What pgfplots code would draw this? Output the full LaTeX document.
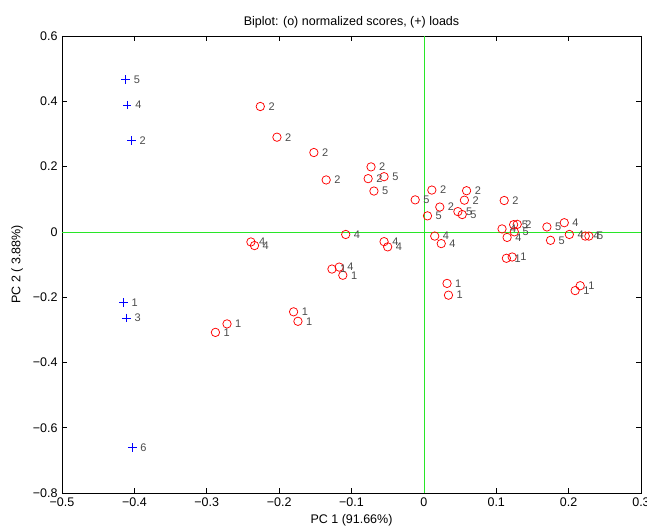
\documentclass[border=0pt]{standalone}
\usepackage{fontspec}
\setmainfont{Liberation Sans}
\usepackage{pgfplots}
\usepackage{pgfplotstable}
\pgfplotsset{compat=1.18}

\pgfplotstableread{
x y lab
-0.226 0.384 2
-0.203 0.290 2
-0.152 0.243 2
-0.135 0.159 2
-0.073 0.199 2
-0.077 0.163 2
0.011 0.128 2
0.059 0.126 2
0.056 0.097 2
0.022 0.076 2
0.111 0.096 2
0.129 0.023 2
-0.055 0.169 5
-0.069 0.125 5
-0.012 0.098 5
0.047 0.062 5
0.053 0.053 5
0.005 0.049 5
0.124 0.022 5
0.125 0.000 5
0.170 0.015 5
0.175 -0.026 5
0.228 -0.013 5
-0.239 -0.031 4
-0.234 -0.042 4
-0.108 -0.008 4
-0.055 -0.030 4
-0.050 -0.046 4
0.015 -0.013 4
0.024 -0.036 4
-0.117 -0.108 4
0.108 0.009 4
0.115 -0.017 4
0.194 0.028 4
0.201 -0.008 4
0.223 -0.013 4
-0.127 -0.114 1
-0.112 -0.133 1
0.032 -0.158 1
0.034 -0.194 1
-0.180 -0.245 1
-0.174 -0.274 1
-0.272 -0.282 1
-0.288 -0.308 1
0.114 -0.081 1
0.122 -0.077 1
0.216 -0.165 1
0.209 -0.180 1
}\scores

\pgfplotstableread{
x y lab
-0.404 0.280 2
-0.415 -0.217 1
-0.411 -0.264 3
-0.403 -0.661 6
}\loadsA

\pgfplotstableread{
x y lab
-0.412 0.467 5
-0.410 0.388 4
}\loadsB

\definecolor{lblgray}{RGB}{75,75,75}
\definecolor{mgreen}{RGB}{40,230,40}
\definecolor{mblue}{rgb}{0,0,1}

\begin{document}
\begin{tikzpicture}
\useasboundingbox (-62pt,-33pt) rectangle (585pt,493pt);
\begin{axis}[
  scale only axis, width=579pt, height=457pt,
  xmin=-0.5, xmax=0.3, ymin=-0.8, ymax=0.6,
  xtick={-0.5,-0.4,-0.3,-0.2,-0.1,0,0.1,0.2,0.3},
  xticklabels={−0.5,−0.4,−0.3,−0.2,−0.1,0,0.1,0.2,0.3},
  ytick={-0.8,-0.6,-0.4,-0.2,0,0.2,0.4,0.6},
  yticklabels={−0.8,−0.6,−0.4,−0.2,0,0.2,0.4,0.6},
  tick align=inside, major tick length=5pt,
  tick style={black, line width=0.6pt},
  axis line style={black, line width=0.8pt},
  tick label style={font=\fontsize{12.5}{14}\selectfont},
  xticklabel style={yshift=-1pt},
  yticklabel style={xshift=-1pt},
  label style={font=\fontsize{12.5}{14}\selectfont},
  title style={font=\fontsize{12.5}{14}\selectfont, yshift=-2pt},
  title={Biplot: (o) normalized scores, (+) loads},
  xlabel={PC 1 (91.66\%)},
  xlabel style={yshift=-1pt},
  ylabel={PC 2 ( 3.88\%)},
  ylabel style={yshift=3pt},
  clip=false,
  loadmark/.style={only marks, mark=+, draw=mblue, color=mblue, mark size=4.3pt,
    mark options={solid, draw=mblue, line width=1pt}},
  labelplot/.style={only marks, mark=none, draw=none,
    nodes near coords, point meta=explicit symbolic,
    nodes near coords style={anchor=west, inner sep=0pt, xshift=8pt,
      text=lblgray, font=\fontsize{11}{12}\selectfont}},
]
\addplot[mgreen, line width=0.6pt, forget plot] coordinates {(-0.5,0) (0.3,0)};
\addplot[mgreen, line width=0.6pt, forget plot] coordinates {(0,-0.8) (0,0.6)};
\addplot[only marks, mark=o, color=red, mark size=4.2pt, mark options={draw=red, line width=0.75pt}]
  table[x=x, y=y]{\scores};
\addplot[loadmark] table[x=x, y=y]{\loadsA};
\addplot[loadmark] table[x=x, y=y]{\loadsB};
\addplot[labelplot] table[x=x, y=y, meta=lab]{\scores};
\addplot[labelplot] table[x=x, y=y, meta=lab]{\loadsA};
\addplot[labelplot] table[x=x, y=y, meta=lab]{\loadsB};
\end{axis}
\end{tikzpicture}
\end{document}
